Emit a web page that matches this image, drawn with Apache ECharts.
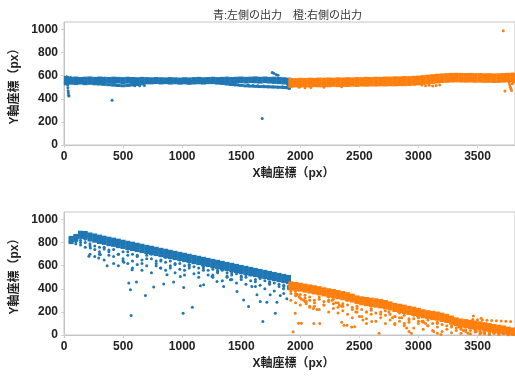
<!DOCTYPE html>
<html>
<head>
<meta charset="utf-8">
<script src="https://cdn.jsdelivr.net/npm/echarts@6/dist/echarts.min.js"></script>
<style>
  html, body { margin: 0; padding: 0; background: #fff; }
  #chart { width: 515px; height: 378px; }
</style>
</head>
<body>
<div id="chart"></div>
<script>
// x positions sampled along each band
const blueX = [20,60,100,140,180,220,260,300,340,380,420,460,500,540,580,620,660,700,740,780,820,860,900,940,980,1020,1060,1100,1140,1180,1220,1260,1300,1340,1380,1420,1460,1500,1540,1580,1620,1660,1700,1740,1780,1820,1860,1900];
const orangeX = [1920,1960,2000,2040,2080,2120,2160,2200,2240,2280,2320,2360,2400,2440,2480,2520,2560,2600,2640,2680,2720,2760,2800,2840,2880,2920,2960,3000,3040,3080,3120,3160,3200,3240,3280,3320,3360,3400,3440,3480,3520,3560,3600,3640,3680,3720,3760,3800];
const blueX2 = [60,100,140,180,220,260,300,340,380,420,460,500,540,580,620,660,700,740,780,820,860,900,940,980,1020,1060,1100,1140,1180,1220,1260,1300,1340,1380,1420,1460,1500,1540,1580,1620,1660,1700,1740,1780,1820,1860,1900];

// top chart: blue band rows
const topBlue1 = [585,578,580,576,579,581,577,580,578,576,579,577,575,578,576,574,577,575,573,576,574,572,575,573,571,574,572,575,577,574,576,578,575,577,579,576,578,580,577,579,581,578,580,577,579,576,574,570];
const topBlue2 = [560,565,563,566,562,565,561,564,560,563,559,562,558,561,557,560,556,559,555,558,554,557,553,556,552,555,551,554,556,553,557,560,557,561,563,560,564,566,563,567,565,562,566,563,560,558,555,552];
const topBlue3 = [540,548,546,549,545,548,544,547,543,546,542,545,541,544,540,543,539,542,538,541,537,540,536,539,535,538,534,537,539,536,540,542,539,543,545,542,546,548,545,549,547,544,548,545,542,540,537,533];
const topBlue4 = [530,535,532,536,531,534,530,528,525,522,518,515,513,516,520,524,530,538,545,548,550,549,551,548,550,547,549,546,548,545,543,540,537,533,528,524,520,516,512,510,508,506,505,503,502,500,498,495];
const topBlueExtra = [[24,592],[27,570],[29,545],[31,520],[33,495],[35,470],[37,450],[39,430],[42,425],[48,540],[55,585],[407,388],[1678,230],[1762,628],[1775,622],[1795,610],[1812,604],[1560,520],[1600,515],[1640,512],[1690,510],[1730,507],[1770,505],[1810,503],[1850,505],[1880,500],[1905,490],[1895,520],[1400,528],[1450,525],[600,512],[640,514],[680,516]];

// top chart: orange band rows
const topOrange1 = [568,566,569,567,570,568,571,569,572,570,573,571,574,572,575,574,577,575,578,577,580,579,582,581,584,583,586,588,592,596,600,604,607,609,611,612,611,610,611,609,610,608,609,607,608,610,612,614];
const topOrange2 = [548,550,549,551,550,552,551,553,552,554,553,555,554,556,555,557,556,558,557,559,558,560,559,561,560,562,564,568,572,576,580,584,588,590,592,593,592,591,592,590,591,589,590,588,589,591,593,595];
const topOrange3 = [528,530,529,531,530,532,531,533,532,534,533,535,534,536,535,537,536,538,537,539,538,540,539,541,540,542,544,548,552,556,560,564,568,570,572,573,572,571,572,570,571,569,570,568,569,571,573,575];
const topOrange4 = [508,512,510,513,511,514,512,515,513,516,514,517,515,518,516,519,518,520,519,521,520,522,521,523,522,524,526,530,534,538,542,546,550,552,554,555,554,553,554,552,553,551,552,550,551,553,555,557];
const topOrangeExtra = [[3718,990],[1990,500],[2040,496],[2090,498],[2200,500],[2350,505],[3030,520],[3060,512],[3090,518],[3120,510],[3150,515],[3180,520],[3732,468],[3762,560],[3768,540],[3772,520],[3778,500],[3783,485],[3788,472],[3795,530],[3805,545]];

// bottom chart: blue band rows (dense) and scattered rows
const botBlue1 = [845,862,890,888,875,866,856,847,838,830,821,812,803,795,786,777,768,760,751,742,734,725,716,707,699,690,681,673,664,655,646,638,629,620,612,603,594,586,577,568,559,551,542,533,525,516,507];
const botBlue2 = [830,850,878,875,860,849,839,830,820,812,803,795,786,778,768,760,750,742,734,724,717,707,699,690,681,673,663,656,646,638,628,621,611,603,594,586,576,569,559,551,541,534,524,516,507,499,490];
const botBlue3 = [812,838,865,860,842,831,821,812,802,795,785,777,768,760,750,742,732,724,716,706,699,689,681,672,663,655,645,638,628,620,610,603,593,585,576,568,558,551,541,533,523,516,506,498,489,481,472];
const botBlue4 = [800,820,845,842,822,812,801,793,782,776,765,758,748,740,731,722,713,705,696,687,679,670,661,653,644,636,626,618,609,601,591,583,574,566,557,549,539,532,522,514,504,497,487,479,470,462,453];
const botBlue5 = [805,810,800,830,790,770,760,745,735,740,700,720,690,700,680,650,690,660,640,650,630,640,610,620,600,610,590,580,595,560,570,550,560,540,520,530,510,500,520,480,490,470,460,450,440,430,420];
const botBlue6 = [null,null,780,760,700,680,720,650,690,620,600,640,620,580,610,560,600,540,620,580,560,600,540,570,520,580,530,500,560,520,500,540,470,510,480,450,500,440,470,420,430,400,450,380,420,360,400];
const botBlue7 = [null,790,820,800,770,740,700,760,720,680,700,660,720,640,690,620,660,700,600,640,670,580,620,650,560,600,630,540,580,610,520,560,590,500,540,570,480,520,550,460,500,530,440,480,510,420,460];
const botBlueExtra = [[211,681],[224,754],[294,667],[308,696],[365,600],[506,629],[576,565],[548,450],[562,391],[613,458],[689,342],[568,168],[759,415],[816,580],[844,441],[872,522],[928,458],[985,507],[1013,412],[1008,189],[1086,241],[1154,426],[1182,435],[1253,507],[1295,464],[1351,420],[1408,478],[1464,377],[1520,304],[1562,246],[1590,420],[1633,348],[1661,290],[1683,116],[1717,284],[1745,348],[1788,189],[1802,284],[1830,342],[1858,400],[1886,313],[1900,420]];

// bottom chart: orange band rows (dense) and scattered rows
const botOrange1 = [452,446,440,432,425,418,410,400,392,385,376,368,358,345,330,322,316,310,305,298,290,278,265,258,250,240,232,222,210,202,196,190,180,170,155,140,130,125,118,112,105,98,90,82,76,70,60,52];
const botOrange2 = [436,430,424,416,408,400,392,384,376,368,360,350,341,330,316,305,298,292,287,280,272,262,248,240,232,222,214,204,193,185,178,172,162,152,138,124,114,108,100,94,88,80,72,65,58,52,44,36];
const botOrange3 = [420,414,406,398,390,382,374,366,358,350,342,332,322,312,298,288,280,274,268,262,254,244,230,222,214,204,196,186,175,167,160,154,144,134,120,106,96,90,82,76,70,62,54,47,40,34,27,20];
const botOrange4 = [400,395,388,380,372,364,356,347,339,331,322,314,304,294,280,270,262,256,250,243,235,225,212,204,195,186,178,168,157,150,142,136,126,116,102,90,80,72,64,58,52,45,38,30,24,18,12,8];
const botOrange5 = [360,340,350,320,330,300,310,290,300,270,280,250,260,240,230,220,200,215,190,200,170,180,160,150,170,130,140,120,110,130,100,110,90,80,70,60,50,45,40,35,30,25,20,18,15,12,10,6];
const botOrange6 = [300,280,260,290,240,250,220,260,200,230,190,210,180,150,200,160,140,180,120,150,100,130,90,120,80,110,60,100,50,80,40,70,30,50,20,40,15,30,10,25,8,20,5,15,4,10,3,6];
const botOrange7 = [380,360,320,345,300,280,330,260,290,310,240,270,300,220,250,280,200,230,260,180,210,240,160,190,220,140,170,200,120,150,170,100,130,150,80,110,60,90,70,50,60,40,30,25,20,15,10,5];
const botOrangeExtra = [[1945,420],[1960,380],[1975,350],[1990,330],[2010,310],[2030,300],[2050,290],[1957,189],[1985,102],[2010,102],[1940,28],[2050,270],[2080,250],[2110,230],[2140,220],[2115,100],[2165,100],[2240,330],[2270,300],[2300,280],[2330,260],[2350,250],[2350,110],[2370,85],[2395,85],[2435,70],[2460,72],[2470,200],[2500,160],[2530,130],[2560,100],[2605,116],[2667,15],[2690,300],[2720,250],[2750,200],[2780,150],[2800,100],[2860,150],[2880,100],[2900,60],[2920,30],[2940,15],[2970,180],[3000,150],[3030,120],[3060,100],[3080,80],[3130,30],[3160,15],[3190,5],[3300,100],[3340,70],[3380,40],[3420,15],[3465,165],[3530,145],[3490,30],[3530,20],[3560,10],[3600,5],[3460,135],[3500,132],[3540,130],[3580,128],[3620,126],[3660,124],[3700,122],[3740,120],[3780,116]];

const titleText = '青:左側の出力　橙:右側の出力';

const BLUE = '#1f77b4';
const ORANGE = '#ff7f0e';
const FONT = "'Liberation Sans', 'Noto Sans CJK JP', sans-serif";

function toPairs(xs, rows, extra) {
  const out = [];
  rows.forEach(r => r.forEach((y, i) => { if (y != null) out.push([xs[i], y]); }));
  return out.concat(extra || []);
}

const labelStyle = { fontFamily: FONT, fontWeight: 'bold', fontSize: 12, color: '#222', margin: 6, showMaxLabel: false,
  formatter: v => String(v) };

function xAxisFor(gridIndex) {
  return {
    type: 'value', gridIndex: gridIndex, min: 0, max: 3817, interval: 500,
    name: 'X軸座標（px）', nameLocation: 'middle', nameGap: 23,
    nameTextStyle: { fontFamily: FONT, fontWeight: 'bold', fontSize: 12, color: '#222', padding: [0, 0, 0, 8] },
    axisLine: { lineStyle: { color: '#c4c4c4' } },
    axisTick: { show: true, length: 3, lineStyle: { color: '#d0d0d0' } },
    axisLabel: labelStyle,
    splitLine: { show: false }
  };
}
function yAxisFor(gridIndex) {
  return {
    type: 'value', gridIndex: gridIndex, min: 0, max: 1065, interval: 200,
    name: 'Y軸座標（px）', nameLocation: 'middle', nameGap: 43, nameRotate: 90,
    nameTextStyle: { fontFamily: FONT, fontWeight: 'bold', fontSize: 12, color: '#222' },
    axisLine: { show: true, lineStyle: { color: '#c4c4c4' } },
    axisTick: { show: true, length: 3, lineStyle: { color: '#d0d0d0' } },
    axisLabel: labelStyle,
    splitLine: { show: false }
  };
}
// dense band rows drawn as short dashes so neighbouring samples merge
function band(xi, data, color) {
  return {
    type: 'scatter', xAxisIndex: xi, yAxisIndex: xi,
    symbol: 'rect', symbolSize: [5, 3], data: data,
    itemStyle: { color: color, opacity: 1 }, silent: true
  };
}
function dots(xi, data, color) {
  return {
    type: 'scatter', xAxisIndex: xi, yAxisIndex: xi,
    symbol: 'circle', symbolSize: 3, data: data,
    itemStyle: { color: color, opacity: 1 }, silent: true
  };
}

const chart = echarts.init(document.getElementById('chart'));
chart.setOption({
  animation: false,
  backgroundColor: '#fff',
  title: {
    text: titleText, left: 208, top: 5,
    textStyle: { fontFamily: FONT, fontSize: 11, fontWeight: 'normal', color: '#333' }
  },
  grid: [
    { left: 64, right: -1, top: 22, bottom: 233, show: true, borderColor: '#c4c4c4', borderWidth: 1 },
    { left: 64, right: -1, top: 212, bottom: 43, show: true, borderColor: '#c4c4c4', borderWidth: 1 }
  ],
  xAxis: [xAxisFor(0), xAxisFor(1)],
  yAxis: [yAxisFor(0), yAxisFor(1)],
  series: [
    band(0, toPairs(blueX, [topBlue1, topBlue2, topBlue3, topBlue4]), BLUE),
    dots(0, topBlueExtra, BLUE),
    band(0, toPairs(orangeX, [topOrange1, topOrange2, topOrange3, topOrange4]), ORANGE),
    dots(0, topOrangeExtra, ORANGE),
    band(1, toPairs(blueX2, [botBlue1, botBlue2, botBlue3, botBlue4]), BLUE),
    dots(1, toPairs(blueX2, [botBlue5, botBlue6, botBlue7], botBlueExtra), BLUE),
    band(1, toPairs(orangeX, [botOrange1, botOrange2, botOrange3, botOrange4]), ORANGE),
    dots(1, toPairs(orangeX, [botOrange5, botOrange6, botOrange7], botOrangeExtra), ORANGE)
  ]
});
</script>
</body>
</html>
